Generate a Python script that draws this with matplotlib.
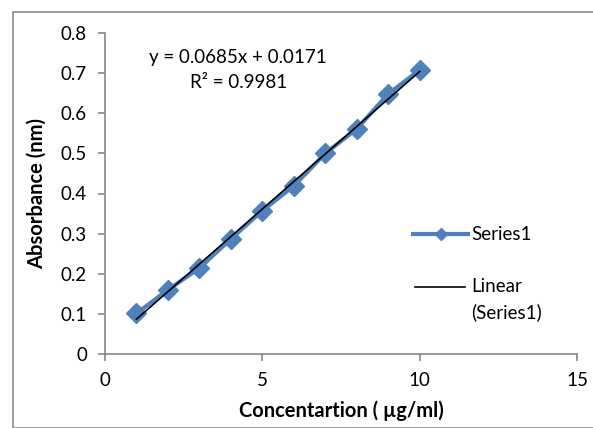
import numpy as np
import matplotlib
matplotlib.use("Agg")
import matplotlib.pyplot as plt
from matplotlib.lines import Line2D
from matplotlib.patches import Rectangle

# Calibration data
conc = [1, 2, 3, 4, 5, 6, 7, 8, 9, 10]
absorb = [0.101, 0.160, 0.214, 0.287, 0.357, 0.419, 0.500, 0.561, 0.648, 0.708]
x_ticks = [0, 5, 10, 15]
y_ticks = [0, 0.1, 0.2, 0.3, 0.4, 0.5, 0.6, 0.7, 0.8]

blue = "#4F81BD"
grey = "#868686"

plt.rcParams['font.family'] = ['Lato', 'DejaVu Sans']
plt.rcParams['font.size'] = 13.5

fig = plt.figure(figsize=(5.93, 4.28), dpi=100)
W, H = 593, 428

# outer chart border
fig.add_artist(Rectangle((13 / W, 0), 1, 1 - 12 / H, transform=fig.transFigure,
                         fill=False, edgecolor="#8c8c8c", linewidth=1.2))

ax = fig.add_axes([105 / W, 1 - 354 / H, (577 - 105) / W, (354 - 33) / H])

ax.plot(conc, absorb, color=blue, linewidth=3, marker="D", markersize=10,
        markerfacecolor=blue, markeredgecolor=blue)

# linear trendline
slope, icpt = np.polyfit(conc, absorb, 1)
xs = np.array([conc[0], conc[-1]])
ax.plot(xs, slope * xs + icpt, color="black", linewidth=1.2)

ax.set_xlim(0, 15)
ax.set_ylim(0, 0.8)
ax.set_xticks(x_ticks)
ax.set_yticks(y_ticks)
ax.set_yticklabels(["0" if v == 0 else f"{v:.1f}" for v in y_ticks])
for side in ["top", "right"]:
    ax.spines[side].set_visible(False)
for side in ["left", "bottom"]:
    ax.spines[side].set_color(grey)
    ax.spines[side].set_linewidth(1.2)
ax.tick_params(direction="out", length=5, color=grey, width=1.2, pad=8)

ax.set_xlabel("Concentartion ( µg/ml)", fontweight="bold", fontsize=14.5, labelpad=8)
ax.set_ylabel("Absorbance (nm)", fontweight="bold", fontsize=14.5, labelpad=10)

# trendline equation
fig.text(238 / W, 1 - 58 / H, "y = 0.0685x + 0.0171", ha="center", va="center")
fig.text(239 / W, 1 - 83 / H, "R² = 0.9981", ha="center", va="center")

# legend drawn by hand to match the Excel layout
fig.add_artist(Line2D([413 / W, 468 / W], [1 - 234 / H] * 2, transform=fig.transFigure,
                      color=blue, linewidth=3))
fig.add_artist(Line2D([440.5 / W], [1 - 234 / H], transform=fig.transFigure,
                      marker="D", markersize=6, color=blue))
fig.text(471 / W, 1 - 234 / H, "Series1", va="center")
fig.add_artist(Line2D([415 / W, 465 / W], [1 - 287 / H] * 2, transform=fig.transFigure,
                      color="black", linewidth=1.2))
fig.text(471 / W, 1 - 286 / H, "Linear", va="center")
fig.text(471 / W, 1 - 312 / H, "(Series1)", va="center")

fig.savefig("out.png", dpi=100)
